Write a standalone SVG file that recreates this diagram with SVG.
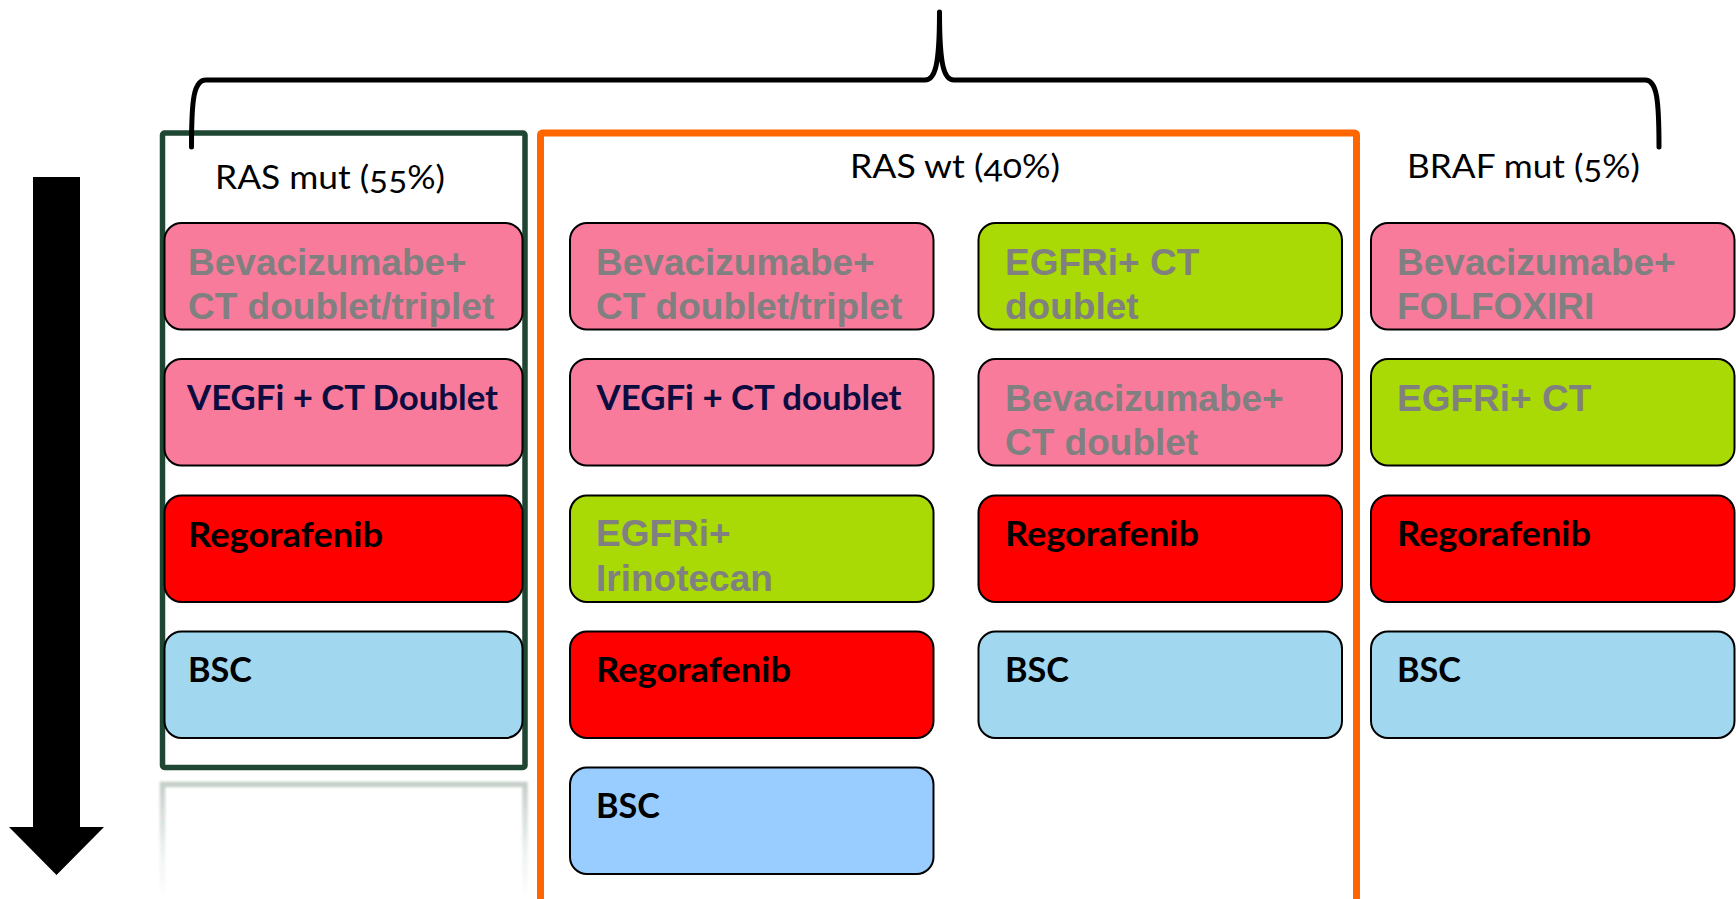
<svg xmlns="http://www.w3.org/2000/svg" width="1736" height="899" viewBox="0 0 1736 899">
  <defs>
    <style>
      .box { stroke: #000; stroke-width: 2; }
      .pink { fill: #F87B9B; }
      .lime { fill: #A9DA05; }
      .red { fill: #FF0000; }
      .sky { fill: #A1D8F0; }
      .blue { fill: #99CCFF; }
      .grey { font-family: "Liberation Sans", Arial, sans-serif; font-weight: bold; font-size: 37px; fill: #808080; }
      .lbl { font-family: Lato, "Open Sans", sans-serif; font-weight: bold; font-size: 35px; fill: #000; }
      .navy { fill: #0C0C40; }
      .title { font-family: Lato, "Open Sans", sans-serif; font-size: 33px; fill: #000; font-variant-numeric: oldstyle-nums; }
    </style>
    <linearGradient id="fade" gradientUnits="userSpaceOnUse" x1="0" y1="784" x2="0" y2="899">
      <stop offset="0" stop-color="#1E4632" stop-opacity="0.26"/>
      <stop offset="0.6" stop-color="#1E4632" stop-opacity="0.06"/>
      <stop offset="1" stop-color="#1E4632" stop-opacity="0"/>
    </linearGradient>
    <filter id="soft" x="-5%" y="-5%" width="110%" height="110%">
      <feGaussianBlur stdDeviation="1.2"/>
    </filter>
  </defs>

  <rect width="1736" height="899" fill="#fff"/>

  <!-- group frames -->
  <g id="group-ras-mut">
    <rect x="162.5" y="133" width="362.5" height="634.5" rx="2" fill="none" stroke="#1E4632" stroke-width="5.5"/>
    <path d="M162.5 899 L162.5 784.5 L525 784.5 L525 899" fill="none" stroke="url(#fade)" stroke-width="5.5" filter="url(#soft)"/>
    <text class="title" x="215" y="189" textLength="230" lengthAdjust="spacingAndGlyphs">RAS mut (55%)</text>
  </g>
  <g id="group-ras-wt">
    <rect x="540.5" y="133" width="816" height="800" rx="2" fill="none" stroke="#FF6600" stroke-width="7"/>
    <text class="title" x="850" y="178" textLength="210" lengthAdjust="spacingAndGlyphs">RAS wt (40%)</text>
  </g>
  <g id="group-braf-mut">
    <text class="title" x="1407" y="178" textLength="233" lengthAdjust="spacingAndGlyphs">BRAF mut (5%)</text>
  </g>

  <!-- RAS mut column -->
  <g id="mut-bev">
    <rect class="box pink" x="164.5" y="223" width="358" height="106.5" rx="17"/>
    <text class="grey" x="188" y="275">Bevacizumabe+</text>
    <text class="grey" x="188" y="319">CT doublet/triplet</text>
  </g>
  <g id="mut-vegfi">
    <rect class="box pink" x="164.5" y="359" width="358" height="106.5" rx="17"/>
    <text class="lbl navy" x="187" y="410" textLength="311" lengthAdjust="spacingAndGlyphs">VEGFi + CT Doublet</text>
  </g>
  <g id="mut-rego">
    <rect class="box red" x="164.5" y="495.5" width="358" height="106.5" rx="17"/>
    <text class="lbl" x="188" y="546.5" textLength="195" lengthAdjust="spacingAndGlyphs">Regorafenib</text>
  </g>
  <g id="mut-bsc">
    <rect class="box sky" x="164.5" y="631.5" width="358" height="106.5" rx="17"/>
    <text class="lbl" x="188" y="682" textLength="64" lengthAdjust="spacingAndGlyphs">BSC</text>
  </g>

  <!-- RAS wt, left column -->
  <g id="wt-bev">
    <rect class="box pink" x="570" y="223" width="363.5" height="106.5" rx="17"/>
    <text class="grey" x="596" y="275">Bevacizumabe+</text>
    <text class="grey" x="596" y="319">CT doublet/triplet</text>
  </g>
  <g id="wt-vegfi">
    <rect class="box pink" x="570" y="359" width="363.5" height="106.5" rx="17"/>
    <text class="lbl navy" x="596.5" y="410" textLength="305" lengthAdjust="spacingAndGlyphs">VEGFi + CT doublet</text>
  </g>
  <g id="wt-egfri-iri">
    <rect class="box lime" x="570" y="495.5" width="363.5" height="106.5" rx="17"/>
    <text class="grey" x="596" y="546">EGFRi+</text>
    <text class="grey" x="596" y="591">Irinotecan</text>
  </g>
  <g id="wt-rego">
    <rect class="box red" x="570" y="631.5" width="363.5" height="106.5" rx="17"/>
    <text class="lbl" x="596" y="682" textLength="195" lengthAdjust="spacingAndGlyphs">Regorafenib</text>
  </g>
  <g id="wt-bsc">
    <rect class="box blue" x="570" y="767.5" width="363.5" height="106.5" rx="17"/>
    <text class="lbl" x="596" y="818" textLength="64" lengthAdjust="spacingAndGlyphs">BSC</text>
  </g>

  <!-- RAS wt, right column -->
  <g id="wt-egfri-ct">
    <rect class="box lime" x="978.5" y="223" width="363.5" height="106.5" rx="17"/>
    <text class="grey" x="1005" y="275">EGFRi+ CT</text>
    <text class="grey" x="1005" y="319">doublet</text>
  </g>
  <g id="wt-bev-doublet">
    <rect class="box pink" x="978.5" y="359" width="363.5" height="106.5" rx="17"/>
    <text class="grey" x="1005" y="411">Bevacizumabe+</text>
    <text class="grey" x="1005" y="455">CT doublet</text>
  </g>
  <g id="wt-rego-2">
    <rect class="box red" x="978.5" y="495.5" width="363.5" height="106.5" rx="17"/>
    <text class="lbl" x="1005" y="545.5" textLength="194" lengthAdjust="spacingAndGlyphs">Regorafenib</text>
  </g>
  <g id="wt-bsc-2">
    <rect class="box sky" x="978.5" y="631.5" width="363.5" height="106.5" rx="17"/>
    <text class="lbl" x="1005" y="682" textLength="64" lengthAdjust="spacingAndGlyphs">BSC</text>
  </g>

  <!-- BRAF mut column -->
  <g id="braf-bev">
    <rect class="box pink" x="1371" y="223" width="363.5" height="106.5" rx="17"/>
    <text class="grey" x="1397" y="275">Bevacizumabe+</text>
    <text class="grey" x="1397" y="319">FOLFOXIRI</text>
  </g>
  <g id="braf-egfri">
    <rect class="box lime" x="1371" y="359" width="363.5" height="106.5" rx="17"/>
    <text class="grey" x="1397" y="411">EGFRi+ CT</text>
  </g>
  <g id="braf-rego">
    <rect class="box red" x="1371" y="495.5" width="363.5" height="106.5" rx="17"/>
    <text class="lbl" x="1397" y="545.5" textLength="194" lengthAdjust="spacingAndGlyphs">Regorafenib</text>
  </g>
  <g id="braf-bsc">
    <rect class="box sky" x="1371" y="631.5" width="363.5" height="106.5" rx="17"/>
    <text class="lbl" x="1397" y="682" textLength="64" lengthAdjust="spacingAndGlyphs">BSC</text>
  </g>

  <!-- brace over the three groups and the line-of-therapy arrow -->
  <g id="connectors">
    <path d="M191.5 147 C191.5 100 193.5 80 206 80 L925 80 C935 80 939.5 66 939.5 12 C939.5 66 944 80 954 80 L1645 80 C1657 80 1659 100 1659 147" fill="none" stroke="#000" stroke-width="5" stroke-linecap="round" stroke-linejoin="round"/>
    <polygon points="33,177 80,177 80,827 104,827 56.5,875 9,827 33,827" fill="#000"/>
  </g>
</svg>
